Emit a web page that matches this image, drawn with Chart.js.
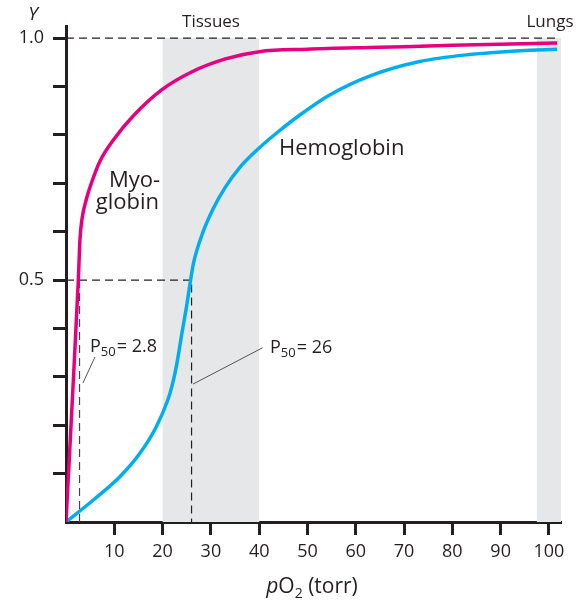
<!DOCTYPE html>
<html>
<head>
<meta charset="utf-8">
<script src="https://cdn.jsdelivr.net/npm/chart.js@4.4.1/dist/chart.umd.min.js"></script>
<style>
html,body{margin:0;padding:0;background:#fff;}
#wrap{width:576px;height:607px;}
</style>
</head>
<body>
<div id="wrap"><canvas id="c" width="576" height="607"></canvas></div>
<script>
// ---- data ----
const myoX = [0, 1.3, 2.55, 2.9, 3.3, 4.3, 5.5, 7, 10, 14, 19.8, 26, 33, 40, 50, 65, 80, 101.7];
const myoY = [0, 0.25, 0.50, 0.585, 0.625, 0.67, 0.707, 0.745, 0.792, 0.84, 0.893, 0.93, 0.957, 0.972, 0.977, 0.981, 0.985, 0.99];
const hemoX = [0, 5.6, 11.2, 15.3, 18.7, 21, 22, 23, 24, 25, 25.8, 26.4, 28.4, 30.5, 33, 36, 40, 44, 48, 54.5, 63, 73, 83.5, 94, 101.7];
const hemoY = [0, 0.045, 0.094, 0.142, 0.197, 0.25, 0.283, 0.33, 0.39, 0.448, 0.50, 0.535, 0.60, 0.648, 0.692, 0.733, 0.773, 0.807, 0.838, 0.882, 0.922, 0.951, 0.966, 0.974, 0.977];
const p50Myo = 2.8;
const p50Hemo = 26;
const tissuesRange = [20, 40];
const lungsRange = [97.5, 102.5];
const xTickValues = [10, 20, 30, 40, 50, 60, 70, 80, 90, 100];
const yTickValues = [0.1, 0.2, 0.3, 0.4, 0.5, 0.6, 0.7, 0.8, 0.9, 1.0];
const yLabeled = {0.5: '0.5', 1: '1.0'};

const toPts = (xs, ys) => xs.map((x, i) => ({x: x, y: ys[i]}));

const INK = '#231f20';
const FONT = '"Open Sans", "Noto Sans", sans-serif';

const bgPlugin = {
  id: 'bg',
  beforeDatasetsDraw(chart) {
    const {ctx, scales: {x, y}} = chart;
    ctx.save();
    ctx.fillStyle = '#e6e7e8';
    [tissuesRange, lungsRange].forEach(r => {
      const x0 = x.getPixelForValue(r[0]), x1 = x.getPixelForValue(r[1]);
      const y0 = y.getPixelForValue(1.0), y1 = y.getPixelForValue(0);
      ctx.fillRect(x0, y0, x1 - x0, y1 - y0);
    });
    ctx.restore();
  },
  afterDraw(chart) {
    const {ctx} = chart;
    ctx.save();
    ctx.fillStyle = INK;
    ctx.textBaseline = 'middle';
    const txt = (s, px, py, size, align, style) => {
      ctx.font = (style || '') + ' ' + size + 'px ' + FONT;
      ctx.textAlign = align || 'left';
      ctx.fillText(s, px, py);
      return ctx.measureText(s).width;
    };
    txt('Y', 33, 15, 19, 'center', 'italic');
    txt('Tissues', 211, 22, 17, 'center');
    txt('Lungs', 550, 22, 17, 'center');
    txt('Hemoglobin', 279, 149, 22, 'left');
    txt('Myo-', 160, 181, 22, 'right');
    txt('globin', 159, 203, 22, 'right');
    // P50 labels
    const p50 = (px, py, val) => {
      let cx = px;
      cx += txt('P', cx, py, 18, 'left');
      cx += txt('50', cx, py + 5, 13, 'left');
      cx += 1;
      txt('= ' + val, cx, py, 18, 'left');
    };
    p50(90, 347, '2.8');
    p50(270, 348, '26');
    // x axis title
    const S = 21, SS = 14;
    ctx.font = 'italic ' + S + 'px ' + FONT;
    const wp = ctx.measureText('p').width;
    ctx.font = S + 'px ' + FONT;
    const wO = ctx.measureText('O').width;
    const wT = ctx.measureText(' (torr)').width;
    ctx.font = SS + 'px ' + FONT;
    const w2 = ctx.measureText('2').width;
    const total = wp + wO + w2 + wT;
    let sx = 312 - total / 2;
    sx += txt('p', sx, 587, S, 'left', 'italic');
    sx += txt('O', sx, 587, S, 'left');
    sx += txt('2', sx, 594, SS, 'left');
    txt(' (torr)', sx, 587, S, 'left');
    ctx.restore();
  }
};

new Chart(document.getElementById('c'), {
  type: 'line',
  data: {
    datasets: [
      {data: toPts(myoX, myoY), borderColor: '#e6007e', borderWidth: 3.5, pointRadius: 0, cubicInterpolationMode: 'monotone', fill: false},
      {data: toPts(hemoX, hemoY), borderColor: '#00aeef', borderWidth: 3.5, pointRadius: 0, cubicInterpolationMode: 'monotone', fill: false},
      {data: [{x: 0, y: 1}, {x: 101.7, y: 1}], borderColor: INK, borderWidth: 1.2, borderDash: [8, 5], pointRadius: 0, tension: 0},
      {data: [{x: 0, y: 0.5}, {x: p50Hemo, y: 0.5}, {x: p50Hemo, y: 0}], borderColor: INK, borderWidth: 1.2, borderDash: [8, 5], pointRadius: 0, tension: 0},
      {data: [{x: p50Myo, y: 0.5}, {x: p50Myo, y: 0}], borderColor: '#444', borderWidth: 1.2, borderDash: [8, 5], pointRadius: 0, tension: 0},
      {data: [{x: 6.0, y: 0.341}, {x: 3.5, y: 0.287}], borderColor: '#555', borderWidth: 1, pointRadius: 0, tension: 0},
      {data: [{x: 40.7, y: 0.36}, {x: 26.3, y: 0.285}], borderColor: '#555', borderWidth: 1, pointRadius: 0, tension: 0}
    ]
  },
  options: {
    responsive: false,
    animation: false,
    events: [],
    layout: {padding: {top: 26, right: 15, left: 0, bottom: 0}},
    plugins: {legend: {display: false}, tooltip: {enabled: false}, title: {display: false}},
    scales: {
      x: {
        type: 'linear', min: 0, max: 102.5,
        afterFit: s => { s.height = 85; },
        afterBuildTicks: s => { s.ticks = xTickValues.map(v => ({value: v})); },
        ticks: {autoSkip: false, maxRotation: 0, padding: 6, color: INK, font: {family: FONT, size: 18}},
        grid: {drawOnChartArea: false, drawTicks: true, tickLength: 13, tickWidth: 3, tickColor: INK},
        border: {display: true, color: INK, width: 3}
      },
      y: {
        type: 'linear', min: 0, max: 1.025,
        afterFit: s => { s.width = 66; },
        afterBuildTicks: s => { s.ticks = yTickValues.map(v => ({value: v})); },
        ticks: {autoSkip: false, padding: 9, color: INK, font: {family: FONT, size: 18},
          callback: v => { const k = Math.round(v * 10) / 10; return yLabeled[k] || ''; }},
        grid: {drawOnChartArea: false, drawTicks: true, tickLength: 13, tickWidth: 3, tickColor: INK},
        border: {display: true, color: INK, width: 3}
      }
    }
  },
  plugins: [bgPlugin]
});
</script>
</body>
</html>
